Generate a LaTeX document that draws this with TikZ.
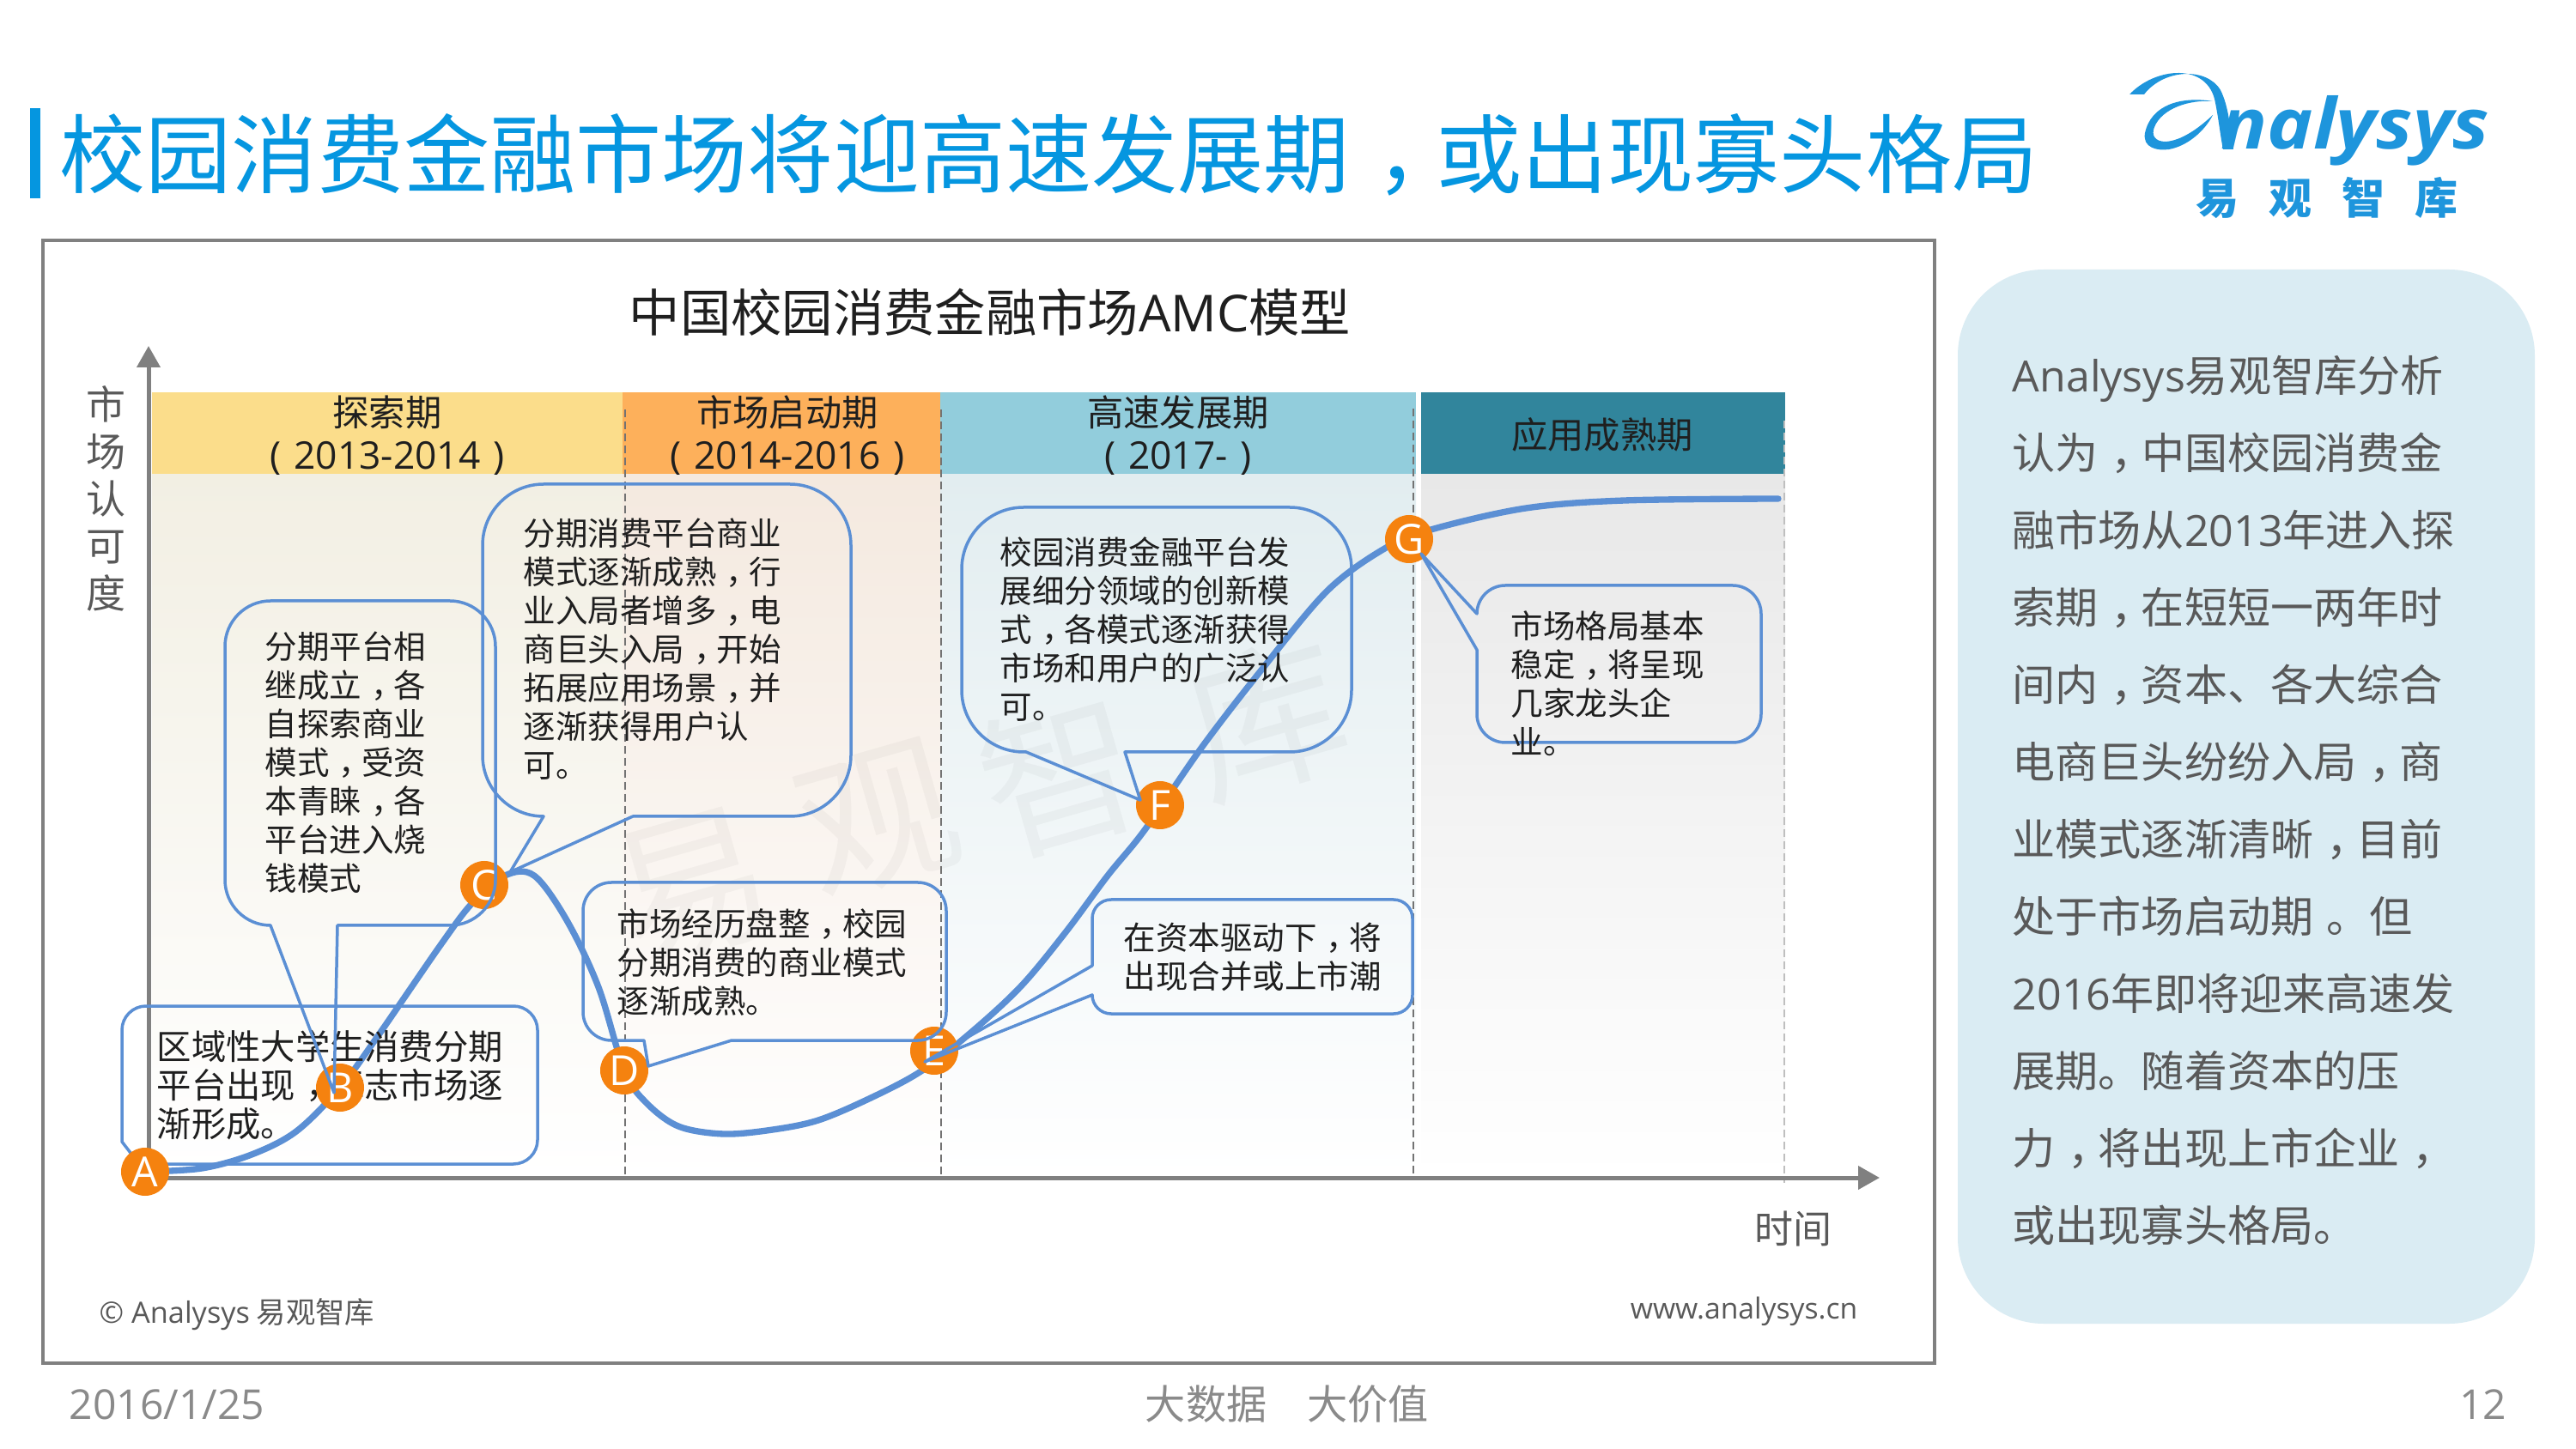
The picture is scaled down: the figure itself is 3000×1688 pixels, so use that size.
\documentclass[tikz,border=0pt]{standalone}
\usepackage{fontspec}
\usepackage{graphicx}
\usetikzlibrary{arrows.meta}
\setmainfont{Noto Sans CJK SC}
\newfontfamily\latf{Open Sans}
\newcommand\lat[1]{{\latf #1}}
\newcommand\fs[2]{\fontsize{#1}{#2}\selectfont}
\newcommand\cc{\kern.3em，\kern-.3em}
\newcommand\cpd{\kern.3em。}
\newcommand\crad{30}
\newcommand\cTR[2]{-- ({#1-\crad},#2) .. controls ({#1-.45*\crad},#2) and (#1,{#2+.45*\crad}) .. (#1,{#2+\crad})}
\newcommand\cBR[2]{-- (#1,{#2-\crad}) .. controls (#1,{#2-.45*\crad}) and ({#1-.45*\crad},#2) .. ({#1-\crad},#2)}
\newcommand\cBL[2]{-- ({#1+\crad},#2) .. controls ({#1+.45*\crad},#2) and (#1,{#2-.45*\crad}) .. (#1,{#2-\crad})}
\newcommand\cTL[2]{-- (#1,{#2+\crad}) .. controls (#1,{#2+.45*\crad}) and ({#1+.45*\crad},#2) .. ({#1+\crad},#2)}
\definecolor{curveblue}{HTML}{5B8FD4}
\definecolor{dotor}{HTML}{F5820F}
\definecolor{titleblue}{HTML}{0596E0}
\definecolor{greytext}{HTML}{595959}
\definecolor{foot}{HTML}{8A8A8A}
\definecolor{logoblue}{HTML}{1E95DC}
\tikzset{
  calloutline/.style={draw=curveblue,line width=1.05pt,line join=round},
  callouttext/.style={anchor=west,align=left,inner sep=0pt,text=black!88,font=\fs{11.25}{13.5}},
  headtext/.style={align=center,inner sep=0pt,text=black!88,font=\fs{12.7}{15}},
  letterdot/.style={circle,fill=dotor,text=white,minimum size=16.8pt,inner sep=0pt,font=\latf\fs{14.5}{14.5}},
  dashline/.style={dash pattern=on 2.6pt off 1.6pt,line width=.8pt,draw=black!55},
  axisline/.style={draw=black!50,line width=1.5pt,-{Triangle[length=7.5pt,width=8pt]}},
  marktext/.style={inner sep=0pt,text=black,text opacity=.03,rotate=16,font=\fs{55}{55}},
}
\begin{document}
\begin{tikzpicture}[x=0.3pt,y=-0.3pt]
\useasboundingbox (0,0) rectangle (3000,1688);
\fill[white] (0,0) rectangle (3000,1688);
% title
\fill[titleblue] (35,126) rectangle (47,231);
\node[inner sep=0pt,anchor=west,text=titleblue,font=\fs{30.05}{30}] (title) at (69,180) {校园消费金融市场将迎高速发展期\cc 或出现寡头格局};
% logo
\fill[logoblue] (2480,110) .. controls (2510,78) and (2572,72) .. (2580,120) .. controls (2584,140) and (2586,160) .. (2589,174) -- (2601,174) .. controls (2597,150) and (2596,125) .. (2586,105) .. controls (2570,78) and (2520,80) .. (2497,110) -- cycle;
\fill[logoblue] (2577,118) .. controls (2540,112) and (2505,122) .. (2498,155) .. controls (2495,172) and (2512,176) .. (2526,174) .. controls (2548,170) and (2568,152) .. (2577,134) .. controls (2560,150) and (2540,164) .. (2522,165) .. controls (2510,165) and (2505,158) .. (2509,148) .. controls (2518,126) and (2550,116) .. (2577,118) -- cycle;
\node[inner sep=0pt,anchor=base west,text=logoblue,font=\latf\bfseries\itshape\fs{24.5}{24.5}] (logoword) at (2586,174) {\scalebox{1.1}[1]{nalysys}};
\node[inner sep=0pt,text=logoblue,font=\bfseries\fs{15}{15}] (logocn) at (2710,231) {易\hspace{10.5pt}观\hspace{10.5pt}智\hspace{10.5pt}库};
% frame and side panel
\draw[draw=black!50,line width=1.1pt] (50,280) rectangle (2253,1588);
\fill[fill={rgb,255:red,218;green,236;blue,243},rounded corners=30pt] (2280,314) rectangle (2952,1542);
\node[anchor=west,align=left,inner sep=0pt,text=greytext,font=\fs{15.03}{27}] (sidetext) at (2343,932.5) {\lat{Analysys}易观智库分析\\认为\cc 中国校园消费金\\融市场从\lat{2013}年进入探\\索期\cc 在短短一两年时\\间内\cc 资本、各大综合\\电商巨头纷纷入局\cc 商\\业模式逐渐清晰\cc 目前\\处于市场启动期\cpd 但\\\lat{2016}年即将迎来高速发\\展期。随着资本的压\\力\cc 将出现上市企业\cc \\或出现寡头格局。};
% chart title
\node[inner sep=0pt,text=black!88,font=\fs{17.8}{17.8}] (charttitle) at (1153,364) {中国校园消费金融市场\lat{AMC}模型};
% panels
\shade[top color={rgb,255:red,242;green,239;blue,227},bottom color=white] (177,552) rectangle (725,1372);
\shade[top color={rgb,255:red,244;green,233;blue,223},bottom color=white] (725,552) rectangle (1095,1372);
\shade[top color={rgb,255:red,226;green,237;blue,240},bottom color=white] (1095,552) rectangle (1649,1372);
\shade[top color={rgb,255:red,232;green,232;blue,232},bottom color=white] (1655,552) rectangle (2079,1372);
% headers
\fill[fill={rgb,255:red,251;green,221;blue,139}] (177,457) rectangle (725,552);
\fill[fill={rgb,255:red,253;green,176;blue,91}] (725,457) rectangle (1095,552);
\fill[fill={rgb,255:red,146;green,205;blue,220}] (1095,457) rectangle (1649,552);
\fill[fill={rgb,255:red,49;green,133;blue,156}] (1655,457) rectangle (2079,552);
\node[headtext] (h1) at (451,507) {探索期\\\lat{\fs{13.3}{15}(\,\,2013-2014\,\,)}};
\node[headtext] (h2) at (917,507) {市场启动期\\\lat{\fs{13.3}{15}(\,\,2014-2016\,\,)}};
\node[headtext] (h3) at (1372,507) {高速发展期\\\lat{\fs{13.3}{15}(\,\,2017-\,\,)}};
\node[headtext] (h4) at (1866,506) {应用成熟期};
% watermark
\node[marktext] (m1) at (806,1034) {易};
\node[marktext] (m2) at (1023,954) {观};
\node[marktext] (m3) at (1234,904) {智};
\node[marktext] (m4) at (1475,838) {库};
% dashed lines
\coordinate (d1t) at (728,477); \coordinate (d1b) at (728,1372);
\coordinate (d2t) at (1096,477); \coordinate (d2b) at (1096,1372);
\coordinate (d3t) at (1646,476); \coordinate (d3b) at (1646,1372);
\coordinate (d4t) at (2078,490); \coordinate (d4b) at (2078,1378);
\draw[dashline] (d1t) -- (d1b);
\draw[dashline] (d2t) -- (d2b);
\draw[dashline] (d3t) -- (d3b);
\draw[dashline,draw=black!25] (d4t) -- (d4b);
% axes
\coordinate (org) at (173,1372); \coordinate (ytip) at (173,403); \coordinate (xtip) at (2189,1372);
\draw[axisline] (org) -- (ytip);
\draw[axisline] (org) -- (xtip);
\node[align=center,inner sep=0pt,text=greytext,font=\fs{13.8}{16.5}] (ylabel) at (123,581) {市\\场\\认\\可\\度};
\node[inner sep=0pt,text=greytext,font=\fs{13.5}{13.5}] (xlabel) at (2088,1432) {时间};
% point positions
\coordinate (pA) at (169,1365); \coordinate (pB) at (396,1267); \coordinate (pC) at (564,1031);
\coordinate (pD) at (727,1247); \coordinate (pE) at (1088,1224); \coordinate (pF) at (1351,938);
\coordinate (pG) at (1641,628); \coordinate (pEnd) at (2071,581);
% curve
\draw[draw=curveblue,line width=2.2pt,line cap=round] plot[smooth,tension=.55] coordinates {(pA) (235,1361) (293,1345) (345,1318) (pB) (440,1207) (513,1101) (550,1052) (588,1020) (622,1020) (660,1072) (697,1150) (pD) (752,1284) (790,1312) (843,1321) (900,1316) (953,1305) (1012,1280) (1071,1249) (1127,1206) (1188,1150) (1241,1086) (1290,1020) (1333,967) (1400,870) (1471,778) (1547,687) (1616,637) (1670,616) (1777,592) (1892,583) (pEnd)};
% callout A (below the dots)
\renewcommand\crad{28}
\draw[calloutline] (170,1172) \cTR{626}{1172} \cBR{626}{1356} -- (180,1356) -- (169,1365) -- (142,1330) \cTL{142}{1172} -- cycle;
\node[callouttext,font=\fs{12.1}{13.5}] (ta) at (182,1264) {区域性大学生消费分期\\平台出现\cc 标志市场逐\\渐形成。};
% dots
\node[letterdot] (A) at (pA) {A};
\node[letterdot] (B) at (pB) {B};
\node[letterdot] (C) at (pC) {C};
\node[letterdot] (D) at (pD) {D};
\node[letterdot] (E) at (pE) {E};
\node[letterdot] (F) at (pF) {F};
\node[letterdot] (G) at (pG) {G};
% callouts
\renewcommand\crad{53}
\draw[calloutline] (315,700) \cTR{577}{700} \cBR{577}{1078} -- (393,1078) -- (389,1273) -- (315,1078) \cBL{262}{1078} \cTL{262}{700} -- cycle;
\node[callouttext] (tb) at (308,888) {分期平台相\\继成立\cc 各\\自探索商业\\模式\cc 受资\\本青睐\cc 各\\平台进入烧\\钱模式};
\renewcommand\crad{71}
\draw[calloutline] (633,564) \cTR{991}{564} \cBR{991}{951} -- (737,951) -- (594,1016) -- (633,951) \cBL{562}{951} \cTL{562}{564} -- cycle;
\node[callouttext] (tc) at (609,756) {分期消费平台商业\\模式逐渐成熟\cc 行\\业入局者增多\cc 电\\商巨头入局\cc 开始\\拓展应用场景\cc 并\\逐渐获得用户认\\可。};
\renewcommand\crad{33}
\draw[calloutline] (712,1028) \cTR{1102}{1028} \cBR{1102}{1212} -- (852,1212) -- (755,1242) -- (750,1212) \cBL{679}{1212} \cTL{679}{1028} -- cycle;
\node[callouttext] (td) at (718,1121) {市场经历盘整\cc 校园\\分期消费的商业模式\\逐渐成熟。};
\renewcommand\crad{22}
\draw[calloutline] (1294,1048) \cTR{1645}{1048} \cBR{1645}{1181} \cBL{1272}{1181} -- (1272,1159) -- (1077,1237) -- (1272,1125) \cTL{1272}{1048} -- cycle;
\node[callouttext] (te) at (1308,1115) {在资本驱动下\cc 将\\出现合并或上市潮};
\renewcommand\crad{72}
\draw[calloutline] (1192,591) \cTR{1574}{591} \cBR{1574}{876} -- (1310,876) -- (1328,932) -- (1195,876) \cBL{1120}{876} \cTL{1120}{591} -- cycle;
\node[callouttext] (tf) at (1164,733) {校园消费金融平台发\\展细分领域的创新模\\式\cc 各模式逐渐获得\\市场和用户的广泛认\\可。};
\renewcommand\crad{33}
\draw[calloutline] (1753,682) \cTR{2051}{682} \cBR{2051}{865} \cBL{1720}{865} -- (1720,757) -- (1655,645) -- (1720,715) \cTL{1720}{682} -- cycle;
\node[callouttext] (tg) at (1759,796) {市场格局基本\\稳定\cc 将呈现\\几家龙头企\\业。};
% footer
\node[anchor=west,inner sep=0pt,text=greytext,font=\fs{10.3}{10.3}] (copy) at (115,1531) {\lat{© Analysys} 易观智库};
\node[anchor=east,inner sep=0pt,text=greytext,font=\latf\fs{10.1}{10.1}] (web) at (2164,1528) {www.analysys.cn};
\node[anchor=west,inner sep=0pt,text=foot,font=\latf\fs{14.4}{14.4}] (date) at (80,1636) {2016/1/25};
\node[inner sep=0pt,text=foot,font=\fs{14.15}{14.15}] (slogan) at (1499,1636) {大数据　大价值};
\node[anchor=east,inner sep=0pt,text=foot,font=\latf\fs{14.4}{14.4}] (page) at (2920,1636) {12};
\end{tikzpicture}
\end{document}
